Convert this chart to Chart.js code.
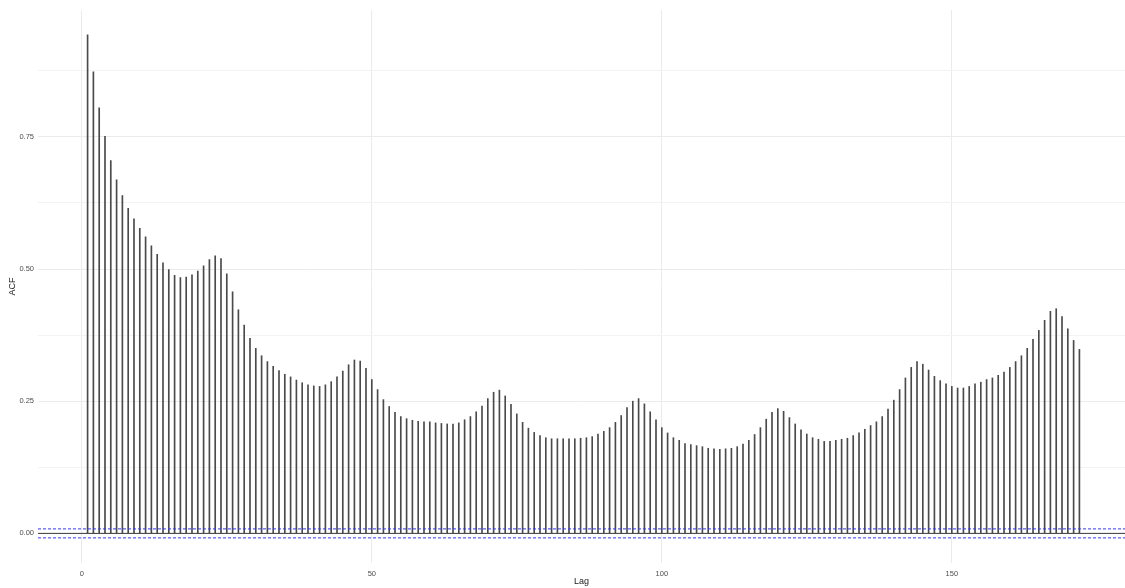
<!DOCTYPE html>
<html>
<head>
<meta charset="utf-8">
<script src="https://cdn.jsdelivr.net/npm/chart.js@4.4.0/dist/chart.umd.min.js"></script>
<style>
  html, body { margin: 0; padding: 0; background: #fff; }
  #wrap { width: 1125px; height: 588px; }
</style>
</head>
<body>
<div id="wrap"><canvas id="acfChart" width="1125" height="588"></canvas></div>
<script>
//** ACF VALUES, ONE PER LAG (LAG 1 FIRST) */
const acfValues = [
  0.943, 0.873, 0.805, 0.751, 0.705, 0.669, 0.639, 0.615, 0.595, 0.577,
  0.561, 0.544, 0.528, 0.512, 0.499, 0.488, 0.484, 0.485, 0.489, 0.496,
  0.506, 0.518, 0.525, 0.520, 0.491, 0.457, 0.423, 0.394, 0.369, 0.350,
  0.336, 0.325, 0.316, 0.308, 0.301, 0.296, 0.290, 0.285, 0.281, 0.279,
  0.278, 0.281, 0.287, 0.296, 0.307, 0.319, 0.328, 0.326, 0.312, 0.291,
  0.272, 0.253, 0.240, 0.229, 0.221, 0.217, 0.214, 0.212, 0.211, 0.211,
  0.209, 0.208, 0.207, 0.207, 0.209, 0.215, 0.221, 0.230, 0.241, 0.255,
  0.267, 0.271, 0.260, 0.244, 0.226, 0.210, 0.199, 0.191, 0.185, 0.181,
  0.179, 0.179, 0.179, 0.179, 0.179, 0.180, 0.181, 0.183, 0.188, 0.193,
  0.200, 0.210, 0.223, 0.238, 0.250, 0.255, 0.245, 0.230, 0.215, 0.200,
  0.190, 0.181, 0.176, 0.170, 0.168, 0.166, 0.164, 0.161, 0.160, 0.159,
  0.160, 0.161, 0.164, 0.169, 0.176, 0.187, 0.200, 0.216, 0.229, 0.236,
  0.231, 0.219, 0.207, 0.196, 0.188, 0.181, 0.178, 0.174, 0.174, 0.176,
  0.178, 0.180, 0.185, 0.190, 0.197, 0.204, 0.211, 0.221, 0.235, 0.252,
  0.272, 0.294, 0.314, 0.325, 0.320, 0.309, 0.297, 0.289, 0.283, 0.278,
  0.275, 0.275, 0.278, 0.283, 0.286, 0.291, 0.294, 0.299, 0.305, 0.314,
  0.325, 0.336, 0.350, 0.367, 0.384, 0.403, 0.420, 0.425, 0.410, 0.387,
  0.365, 0.348
];
const lags = acfValues.map((v, i) => i + 1);

//** CONFIDENCE BOUND AND AXIS SETUP */
const ciBound = 0.0085;
const xTicks = [0, 50, 100, 150];
const yTicks = [0, 0.125, 0.25, 0.375, 0.5, 0.625, 0.75, 0.875];
const yMajor = [0, 0.25, 0.5, 0.75];
const X_MIN = -7.55, X_MAX = 179.86;
const Y_MIN = -0.056, Y_MAX = 0.99;

const ctx = document.getElementById('acfChart');
const FONT = "'Liberation Sans', Arial, sans-serif";

function hline(y, color, dash) {
  return {
    type: 'line',
    data: [{ x: X_MIN, y: y }, { x: X_MAX, y: y }],
    borderColor: color,
    borderWidth: 1,
    borderDash: dash,
    pointRadius: 0,
    fill: false,
    order: 0,
  };
}

const data = {
  datasets: [
    {
      type: 'bar',
      data: lags.map((lag, i) => ({ x: lag, y: acfValues[i] })),
      backgroundColor: '#4a4a4a',
      borderWidth: 0,
      barThickness: 1,
      order: 2,
    },
    hline(0, '#3a3a3a', []),
    hline(ciBound, '#3535ff', [3, 2]),
    hline(-ciBound, '#3535ff', [3, 2]),
  ],
};

const config = {
  type: 'bar',
  data: data,
  options: {
    responsive: false,
    animation: false,
    layout: { padding: { top: 10, right: 0, left: 0, bottom: 0 } },
    plugins: {
      legend: { display: false },
      tooltip: { enabled: false },
    },
    scales: {
      x: {
        type: 'linear',
        min: X_MIN,
        max: X_MAX,
        offset: false,
        afterBuildTicks: (s) => { s.ticks = xTicks.map(v => ({ value: v })); },
        afterFit: (s) => { s.height = 25; },
        border: { display: false },
        grid: { color: '#ebebeb', lineWidth: 1, drawTicks: false, offset: false },
        ticks: {
          padding: 6,
          color: '#4d4d4d',
          font: { family: FONT, size: 7.5 },
          maxRotation: 0,
        },
        title: {
          display: true,
          text: 'Lag',
          color: '#1a1a1a',
          font: { family: FONT, size: 9 },
          padding: { top: 0, bottom: 1 },
        },
      },
      y: {
        min: Y_MIN,
        max: Y_MAX,
        afterBuildTicks: (s) => { s.ticks = yTicks.map(v => ({ value: v })); },
        afterFit: (s) => { s.width = 38; },
        border: { display: false },
        grid: {
          drawTicks: false,
          lineWidth: 1,
          color: (c) => yMajor.includes(c.tick.value) ? '#ebebeb' : '#f3f3f3',
        },
        ticks: {
          padding: 4,
          color: '#4d4d4d',
          font: { family: FONT, size: 7.5 },
          callback: (v) => yMajor.includes(v) ? v.toFixed(2) : '',
        },
        title: {
          display: true,
          text: 'ACF',
          color: '#1a1a1a',
          font: { family: FONT, size: 9 },
          padding: { top: 7, bottom: 0 },
        },
      },
    },
  },
};

const chart = new Chart(ctx, config);
</script>
</body>
</html>
